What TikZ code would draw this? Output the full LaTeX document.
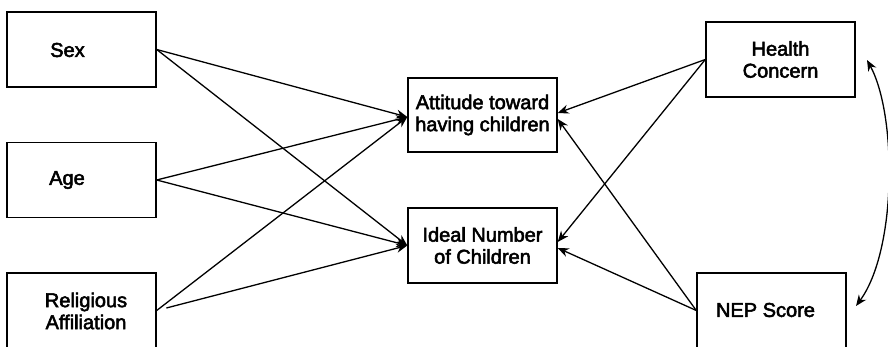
\documentclass[tikz,border=0pt]{standalone}
\usepackage{fontspec}
\setmainfont{Liberation Sans}[FakeBold=2.6]
\usetikzlibrary{arrows.meta}
\begin{document}
\begin{tikzpicture}[x=1pt,y=-1pt,
  varbox/.style={draw, line width=1.4pt, minimum width=149pt, minimum height=75pt, inner sep=0pt},
  lbl/.style={font=\fontsize{20}{22}\selectfont, align=center, inner sep=0pt},
  path/.style={line width=1.3pt, -{Stealth[length=11pt,width=9pt]}},
  both/.style={line width=1.3pt, {Stealth[length=11pt,width=9pt]}-{Stealth[length=11pt,width=9pt]}}]
\useasboundingbox (0,0) rectangle (888,347);

% predictors on the left
\node[varbox] (sex) at (81.5,49.5) {};
\node[lbl] (sext) at (67.5,50) {Sex};
\node[varbox] (age) at (81.5,180) {};
\node[lbl] (aget) at (67,180) {Age};
\node[varbox] (rel) at (81.5,310.5) {};
\node[lbl] (relt) at (86,311) {Religious\\Affiliation};

% outcomes in the middle
\node[varbox, lbl, draw, line width=1.4pt, minimum width=149pt, minimum height=74pt] (att) at (482.5,115) {Attitude toward\\having children};
\node[varbox, lbl, draw, line width=1.4pt, minimum width=149pt, minimum height=75pt] (ideal) at (482.5,245.5) {Ideal Number\\of Children};

% predictors on the right
\node[varbox, lbl, draw, line width=1.4pt, minimum width=149pt, minimum height=75pt] (health) at (780.5,59.5) {Health\\Concern};
\node[varbox] (nep) at (771.5,310.5) {};
\node[lbl] (nept) at (765.5,310) {NEP Score};

% paths from the left
\draw[path] (sex.east) -- ([yshift=-2pt]att.west);
\draw[path] (sex.east) -- (ideal.west);
\draw[path] (age.east) -- ([yshift=-2pt]att.west);
\draw[path] (age.east) -- (ideal.west);
\draw[path] (rel.east) -- ([yshift=-2pt]att.west);
\draw[path, shorten <=10pt] (rel.east) -- (ideal.west);

% paths from the right
\draw[path] (health.west) -- ([yshift=2pt]att.east);
\draw[path] (health.west) -- ([yshift=3.5pt]ideal.east);
\draw[path] (nep.west) -- ([yshift=-4pt]att.east);
\draw[path] (nep.west) -- ([yshift=-2.5pt]ideal.east);

% correlation between the right-hand predictors
\coordinate (ctop) at (867,60);
\coordinate (cbot) at (856,306);
\draw[both] (cbot) .. controls (897,250) and (897,115) .. (ctop);
\end{tikzpicture}
\end{document}
